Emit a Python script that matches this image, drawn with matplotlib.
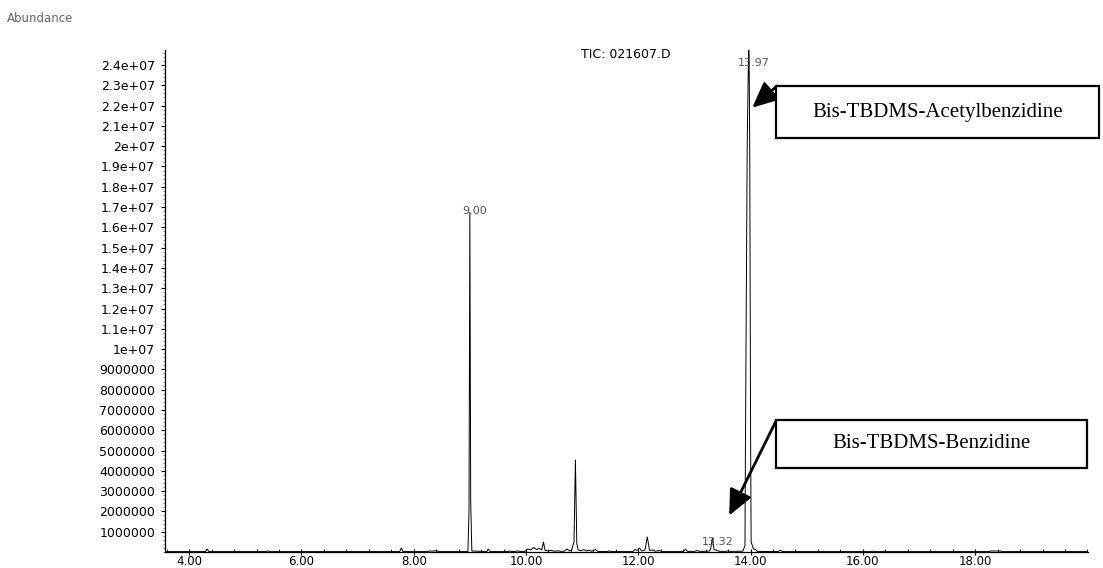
import matplotlib
matplotlib.use("Agg")
import matplotlib.pyplot as plt
from matplotlib.patches import Rectangle
from matplotlib.ticker import MultipleLocator

# ---------------- data ----------------
# retention time (min) vertices of the TIC trace
times = [3.60, 4.29, 4.32, 4.35, 5.37, 5.40, 5.43, 7.75, 7.78, 7.81,
         8.25, 8.28, 8.33, 8.37, 8.42, 8.46,
         8.965, 8.985, 9.00, 9.015, 9.035,
         9.30, 9.33, 9.36, 9.68, 9.71, 9.74, 9.80, 9.85, 9.90,
         9.98, 10.03, 10.08, 10.14, 10.19, 10.24, 10.28, 10.31, 10.34,
         10.40, 10.45, 10.50, 10.58, 10.62,
         10.68, 10.73, 10.77, 10.81, 10.855, 10.88, 10.905, 10.93, 10.98,
         11.03, 11.07, 11.12, 11.17, 11.24, 11.28,
         11.45, 11.48, 11.51,
         11.90, 11.94, 11.98, 12.02, 12.06, 12.12, 12.16, 12.20, 12.26,
         12.30, 12.38, 12.42,
         12.80, 12.84, 12.88, 13.00, 13.05, 13.10,
         13.26, 13.29, 13.32, 13.35, 13.40, 13.45,
         13.55, 13.60, 13.65,
         13.86, 13.90, 13.91, 13.94, 13.97, 13.985, 14.00, 14.01, 14.05,
         14.09, 14.12,
         14.49, 14.53, 14.57,
         16.14, 16.17, 16.20, 16.33, 16.36, 16.39,
         18.25, 18.28, 18.45, 18.48, 20.00]
# abundance at those vertices (millions of counts)
abundance_m = [0.02, 0.02, 0.15, 0.02, 0.02, 0.06, 0.02, 0.02, 0.20, 0.02,
               0.02, 0.05, 0.04, 0.06, 0.05, 0.02,
               0.02, 2.0, 16.75, 2.5, 0.05,
               0.02, 0.15, 0.02, 0.02, 0.05, 0.02, 0.03, 0.05, 0.03,
               0.03, 0.15, 0.10, 0.22, 0.12, 0.18, 0.10, 0.50, 0.08,
               0.05, 0.08, 0.04, 0.06, 0.03,
               0.04, 0.15, 0.06, 0.08, 0.5, 4.55, 0.4, 0.10, 0.06,
               0.12, 0.05, 0.09, 0.04, 0.12, 0.03,
               0.02, 0.06, 0.02,
               0.02, 0.12, 0.08, 0.20, 0.05, 0.10, 0.75, 0.08, 0.10,
               0.04, 0.07, 0.02,
               0.02, 0.14, 0.03, 0.03, 0.07, 0.03,
               0.04, 0.15, 0.70, 0.12, 0.08, 0.03,
               0.03, 0.05, 0.03,
               0.04, 0.30, 6.0, 20.0, 26.0, 20.0, 6.0, 0.5, 0.15,
               0.12, 0.03,
               0.02, 0.09, 0.02,
               0.02, 0.04, 0.02, 0.02, 0.04, 0.02,
               0.02, 0.05, 0.05, 0.02, 0.02]

peak_label_rt = [9.00, 13.97, 13.32]
peak_label_text = ["9.00", "13.97", "13.32"]
peak_label_y_m = [16.8, 24.1, 0.50]

ytick_values_m = [1, 2, 3, 4, 5, 6, 7, 8, 9, 10, 11, 12, 13, 14, 15, 16,
                  17, 18, 19, 20, 21, 22, 23, 24]
ytick_labels = ["1000000", "2000000", "3000000", "4000000", "5000000",
                "6000000", "7000000", "8000000", "9000000", "1e+07",
                "1.1e+07", "1.2e+07", "1.3e+07", "1.4e+07", "1.5e+07",
                "1.6e+07", "1.7e+07", "1.8e+07", "1.9e+07", "2e+07",
                "2.1e+07", "2.2e+07", "2.3e+07", "2.4e+07"]
xtick_values = [4, 6, 8, 10, 12, 14, 16, 18]
xtick_labels = ["4.00", "6.00", "8.00", "10.00", "12.00", "14.00",
                "16.00", "18.00"]

title_text = "TIC: 021607.D"
ylabel_text = "Abundance"
box1_text = "Bis-TBDMS-Acetylbenzidine"
box2_text = "Bis-TBDMS-Benzidine"
arrow1_tip = (14.03, 21.9e6)
arrow2_tip = (13.62, 1.8e6)

# ---------------- figure ----------------
W, H = 1103, 568
fig = plt.figure(figsize=(W / 100, H / 100), dpi=100)
fig.patch.set_facecolor("white")
ax = fig.add_axes([165 / W, 16 / H, 923 / W, 502 / H])

abundance = [v * 1e6 for v in abundance_m]
ax.plot(times, abundance, color="black", lw=0.7, solid_joinstyle="miter")

ax.set_xlim(3.57, 20.01)
ax.set_ylim(0, 24.74e6)

for s in ("top", "right"):
    ax.spines[s].set_visible(False)
for s in ("left", "bottom"):
    ax.spines[s].set_linewidth(0.9)

tick_font = dict(family="DejaVu Sans", size=9)
ax.set_yticks([v * 1e6 for v in ytick_values_m])
ax.set_yticklabels(ytick_labels, fontdict=tick_font)
ax.set_xticks(xtick_values)
ax.set_xticklabels(xtick_labels, fontdict=dict(family="DejaVu Sans", size=8.5))
ax.yaxis.set_minor_locator(MultipleLocator(0.2e6))
ax.xaxis.set_minor_locator(MultipleLocator(0.4))
ax.tick_params(axis="y", which="major", direction="out", length=3, width=0.8, pad=4)
ax.tick_params(axis="y", which="minor", direction="out", length=1.2, width=0.5,
               color="#555555")
ax.tick_params(axis="x", which="major", direction="inout", length=5, width=0.8, pad=0)
ax.tick_params(axis="x", which="minor", direction="in", length=2.5, width=0.6)

# peak labels
for rt, txt, yv in zip(peak_label_rt, peak_label_text, peak_label_y_m):
    ax.annotate(txt, xy=(rt, yv * 1e6), xytext=(5, 0), textcoords="offset pixels",
                ha="center", va="center", fontsize=8, color="#555555",
                family="DejaVu Sans")

fig.text(7 / W, 1 - 19 / H, ylabel_text, fontsize=8.5, color="#666666",
         ha="left", va="center", family="DejaVu Sans")
fig.text(626 / W, 1 - 55 / H, title_text, fontsize=9, color="black",
         ha="center", va="center", family="DejaVu Sans")

# annotation boxes
serif = ["Liberation Serif", "DejaVu Serif"]
b1 = (776, 86, 1099, 138)
b2 = (776, 420, 1087, 468)
for (x0, y0, x1, y1), txt in ((b1, box1_text), (b2, box2_text)):
    fig.patches.append(Rectangle((x0 / W, 1 - y1 / H), (x1 - x0) / W, (y1 - y0) / H,
                                 transform=fig.transFigure, facecolor="white",
                                 edgecolor="black", lw=1.6, zorder=5))
    fig.text((x0 + x1) / 2 / W, 1 - (y0 + y1) / 2 / H, txt, family=serif,
             fontsize=15, ha="center", va="center", zorder=6)

arrow_style = dict(arrowstyle="-|>,head_length=1.3,head_width=0.6", color="black",
                   lw=2, shrinkA=0, shrinkB=0, mutation_scale=12)
ax.annotate("", xy=arrow1_tip, xycoords="data",
            xytext=(777 / W, 1 - 86 / H), textcoords="figure fraction",
            arrowprops=arrow_style, zorder=7)
ax.annotate("", xy=arrow2_tip, xycoords="data",
            xytext=(776 / W, 1 - 421 / H), textcoords="figure fraction",
            arrowprops=arrow_style, zorder=7)

fig.savefig("out.png", dpi=100, facecolor="white")
